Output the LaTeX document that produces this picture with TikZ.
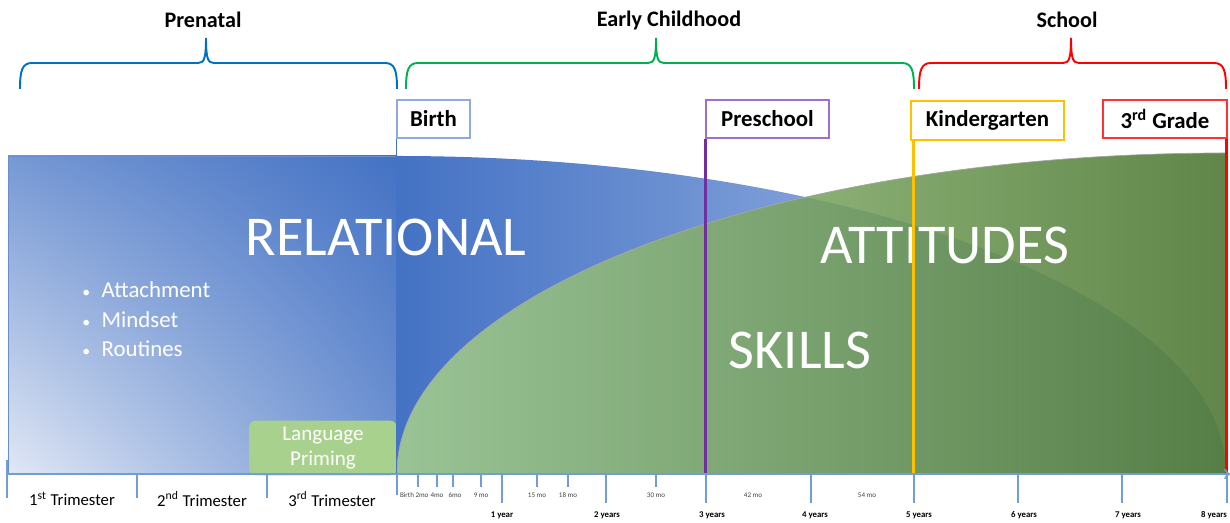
\documentclass[tikz,border=0pt]{standalone}
\usepackage{fontspec}
\setmainfont{Carlito}
\usepackage{tikz}
\usetikzlibrary{positioning,decorations.pathreplacing,shapes,shadings}

\definecolor{prenatal}{RGB}{0,112,192}
\definecolor{early}{RGB}{0,176,80}
\definecolor{school}{RGB}{255,0,0}
\definecolor{relblue}{RGB}{68,114,196}
\definecolor{midblue}{RGB}{118,152,212}
\definecolor{paleblue}{RGB}{225,232,245}
\definecolor{fadeblue}{RGB}{185,203,236}
\definecolor{lightgreen}{RGB}{169,209,142}
\definecolor{sagegreen}{RGB}{150,192,122}
\definecolor{darkgreen}{RGB}{70,114,44}
\definecolor{axisblue}{RGB}{112,157,212}
\definecolor{birthblue}{RGB}{143,170,220}
\definecolor{preschool}{RGB}{112,48,160}
\definecolor{preschoolbox}{RGB}{160,110,205}
\definecolor{kinder}{RGB}{255,192,0}

% colour, left end, tip, right end
\newcommand{\agebrace}[4]{%
  \draw[#1, line width=1.1pt] (#2,434) .. controls (#2,452) and (#2+2,460) .. (#2+12,460)
    -- (#3-8,460) .. controls (#3-2,460) and (#3,464) .. (#3,485)
    .. controls (#3,464) and (#3+2,460) .. (#3+8,460)
    -- (#4-12,460) .. controls (#4-2,460) and (#4,452) .. (#4,434);}

\tikzset{
  period/.style={font=\fontsize{12.6}{15}\selectfont\bfseries},
  stagebox/.style={draw, line width=0.8pt, fill=white, inner sep=0pt,
    minimum height=0.76cm, font=\fontsize{13}{15}\selectfont\bfseries},
  bigword/.style={text=white, font=\fontsize{32}{36}\selectfont},
  listitem/.style={text=white, anchor=west, inner sep=0pt, font=\fontsize{13}{15}\selectfont},
  tick/.style={axisblue, line width=1.4pt},
  monthlabel/.style={font=\fontsize{4}{5}\selectfont, text=black!75},
  yearlabel/.style={font=\fontsize{5}{6}\selectfont\bfseries},
  trilabel/.style={font=\fontsize{9.5}{11}\selectfont}
}
\newcommand{\dotitem}{{\fontsize{9}{9}\selectfont\textbullet}\hspace{6.5pt}}

\begin{document}
\begin{tikzpicture}[x=0.02cm, y=0.02cm]
  \useasboundingbox (0,0) rectangle (1230,523);

  % the three periods
  \agebrace{prenatal}{20}{206}{397}
  \agebrace{early}{406}{656}{914}
  \agebrace{school}{919}{1071}{1226}
  \node[period] (pn) at (203,503) {Prenatal};
  \node[period] (ec) at (669,503) {Early Childhood};
  \node[period] (sc) at (1067,503) {School};

  % relational before birth, then fading
  \shade[upper left=midblue, upper right=relblue, lower left=paleblue, lower right=midblue!90!relblue]
    (8,50) rectangle (397,367);
  \draw[relblue!80, thin] (8,50) |- (397,367);
  \shade[left color=relblue, right color=fadeblue]
    (397,50) -- (397,367) arc[start angle=90, end angle=0, x radius=829, y radius=317] -- cycle;

  % skills and attitudes growing
  \shade[left color=lightgreen, middle color=sagegreen, right color=darkgreen, fill opacity=0.86]
    (397,50) arc[start angle=180, end angle=90, x radius=829, y radius=320] -- (1226,50) -- cycle;
  \draw[gray!70, thin] (397,50) arc[start angle=180, end angle=90, x radius=829, y radius=320];

  \node[bigword] (relational) at (386,286) {RELATIONAL};
  \node[bigword] (attitudes) at (945,278) {ATTITUDES};
  \node[bigword] (skills) at (800,173) {SKILLS};

  \node[listitem] (attach) at (82,233) {\dotitem Attachment};
  \node[listitem] (mindset) at (82,203) {\dotitem Mindset};
  \node[listitem] (routine) at (82,174) {\dotitem Routines};

  \node[fill=lightgreen, rounded corners=4pt, minimum width=2.96cm, minimum height=1cm,
    text=white, align=center, font=\fontsize{12}{14.7}\selectfont] (prime) at (323,75) {Language\\Priming};

  % milestones
  \coordinate (axisL) at (8,49);
  \coordinate (axisR) at (1230,49);
  \node[stagebox, draw=birthblue, minimum width=1.46cm] (birth) at (433.5,404) {Birth};
  \node[stagebox, draw=preschoolbox, minimum width=2.46cm] (pre) at (767.5,404) {Preschool};
  \node[stagebox, draw=kinder, minimum width=3.06cm, minimum height=0.78cm] (kg) at (987.5,402.5) {Kindergarten};
  \node[stagebox, draw=school!80, minimum width=2.48cm] (third) at (1165,404) {3\textsuperscript{rd} Grade};

  \draw[relblue, thin] (birth.south west) -- (birth.south west |- axisL);
  \draw[preschool, line width=1.7pt] (pre.south west) -- (pre.south west |- axisL);
  \draw[kinder, line width=1.7pt] ([xshift=0.06cm]kg.south west) -- ([xshift=0.06cm]kg.south west |- axisL);
  \draw[school, line width=1.7pt] ([xshift=-0.02cm]third.south east) -- ([xshift=-0.02cm]third.south east |- axisL);

  % time axis
  \draw[axisblue, line width=1.2pt, ->] (axisL) -- (axisR);
  \draw[tick] (7,63) -- (7,25);
  \foreach \x in {137,267} \draw[tick] (\x,49) -- (\x,25);
  \draw[tick] (397,49) -- (397,28);
  \foreach \x in {418,437,453,481,537,568,656} \draw[tick] (\x,49) -- (\x,36);
  \foreach \x in {502,606,706,811,914,1018,1122,1227} \draw[tick] (\x,49) -- (\x,20);

  \node[trilabel] (tri1) at (72,24) {1\textsuperscript{st} Trimester};
  \node[trilabel] (tri2) at (202,24) {2\textsuperscript{nd} Trimester};
  \node[trilabel] (tri3) at (332,24) {3\textsuperscript{rd} Trimester};

  \foreach \x/\m in {407/Birth,422/2mo,437/4mo,455/6mo,481/9 mo,537/15 mo,568/18 mo,656/30 mo,753/42 mo,867/54 mo}
    \node[monthlabel] (m\x) at (\x,28) {\m};
  \foreach \x/\y in {502/1 year,607/2 years,712/3 years,815/4 years,919/5 years,1024/6 years,1128/7 years,1214/8 years}
    \node[yearlabel] (y\x) at (\x,8) {\y};
\end{tikzpicture}
\end{document}
